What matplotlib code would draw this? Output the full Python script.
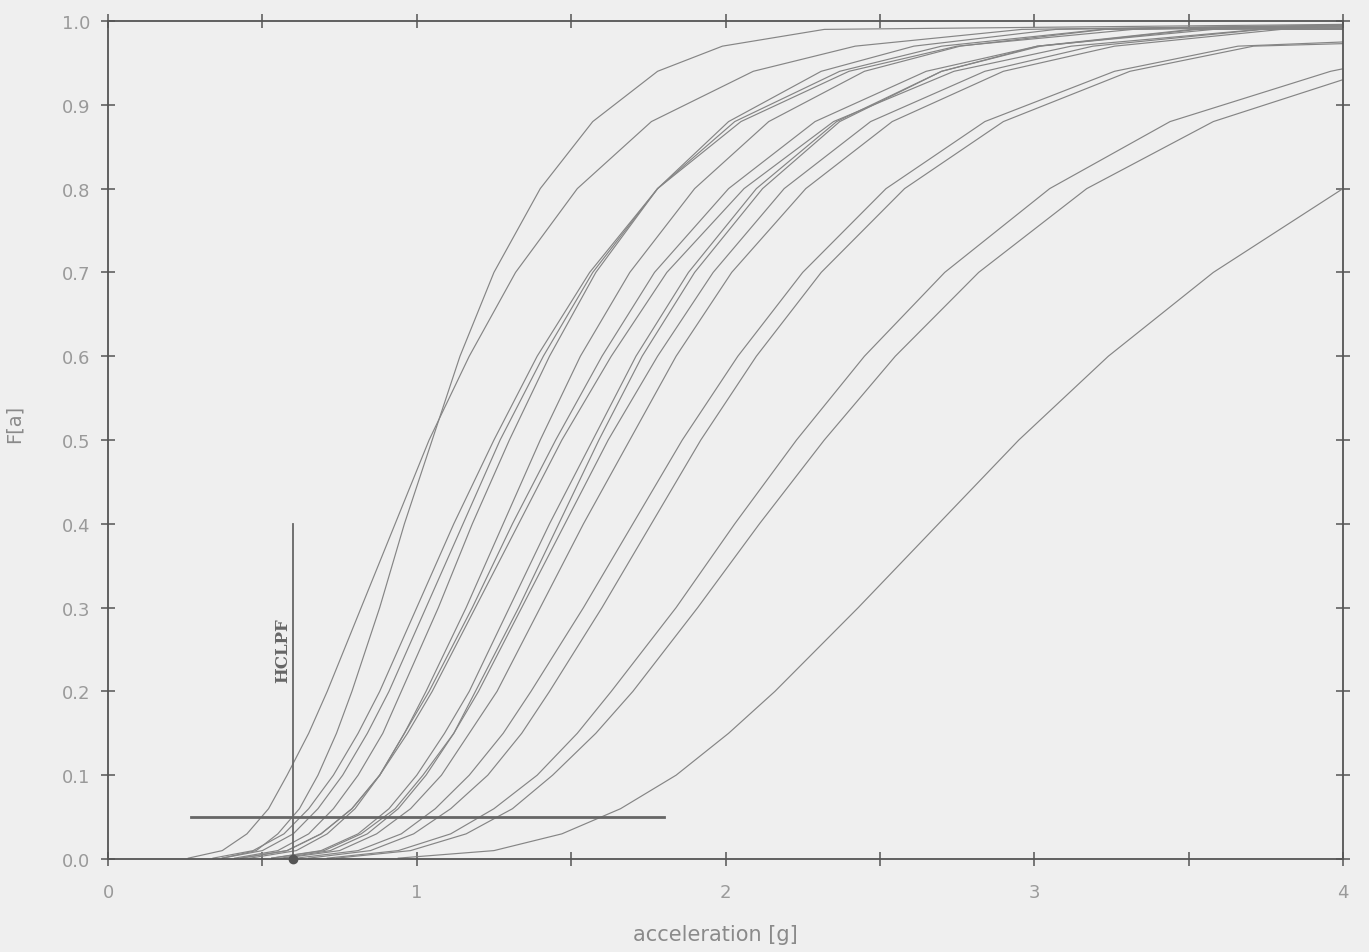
import matplotlib
matplotlib.use('Agg')
import matplotlib.pyplot as plt

# fragility curves: for every curve the acceleration [g]
# at which F[a] reaches each level below; a curve stops where it hits x=4
F_LEVELS = [0.001, 0.01, 0.03, 0.06, 0.1, 0.15, 0.2, 0.3, 0.4, 0.5,
            0.6, 0.7, 0.8, 0.88, 0.94, 0.97, 0.99]

c01 = [0.26, 0.37, 0.45, 0.52, 0.58, 0.65, 0.71, 0.82, 0.93, 1.04, 1.17, 1.32, 1.52, 1.76, 2.09, 2.42, 2.96]
c02 = [0.37, 0.48, 0.55, 0.62, 0.68, 0.74, 0.79, 0.88, 0.96, 1.05, 1.14, 1.25, 1.40, 1.57, 1.78, 1.99, 2.32]
c03 = [0.34, 0.47, 0.57, 0.65, 0.73, 0.81, 0.88, 1.00, 1.12, 1.25, 1.39, 1.56, 1.78, 2.05, 2.40, 2.75, 3.32]
c04 = [0.37, 0.50, 0.60, 0.68, 0.76, 0.84, 0.91, 1.03, 1.15, 1.27, 1.41, 1.57, 1.78, 2.03, 2.37, 2.70, 3.22]
c05 = [0.41, 0.55, 0.65, 0.73, 0.81, 0.89, 0.95, 1.07, 1.18, 1.30, 1.43, 1.58, 1.78, 2.01, 2.31, 2.61, 3.07]
c06 = [0.46, 0.61, 0.71, 0.80, 0.88, 0.96, 1.03, 1.16, 1.28, 1.40, 1.53, 1.69, 1.90, 2.14, 2.45, 2.76, 3.23]
c07 = [0.43, 0.58, 0.69, 0.79, 0.88, 0.96, 1.04, 1.18, 1.31, 1.45, 1.60, 1.77, 2.01, 2.29, 2.65, 3.01, 3.58]
c08 = [0.43, 0.58, 0.69, 0.79, 0.88, 0.97, 1.05, 1.19, 1.33, 1.47, 1.63, 1.81, 2.06, 2.35, 2.74, 3.12, 3.73]
c09 = [0.53, 0.69, 0.81, 0.91, 1.00, 1.09, 1.17, 1.30, 1.43, 1.57, 1.71, 1.88, 2.10, 2.36, 2.70, 3.02, 3.53]
c10 = [0.56, 0.72, 0.84, 0.94, 1.03, 1.12, 1.19, 1.33, 1.46, 1.59, 1.73, 1.90, 2.12, 2.37, 2.70, 3.01, 3.51]
c11 = [0.53, 0.70, 0.82, 0.93, 1.02, 1.12, 1.20, 1.34, 1.48, 1.62, 1.78, 1.96, 2.19, 2.47, 2.84, 3.19, 3.74]
c12 = [0.57, 0.75, 0.87, 0.98, 1.08, 1.17, 1.26, 1.40, 1.54, 1.69, 1.84, 2.02, 2.26, 2.54, 2.90, 3.26, 3.80]
c13 = [0.61, 0.81, 0.95, 1.06, 1.17, 1.28, 1.37, 1.54, 1.70, 1.86, 2.04, 2.25, 2.52, 2.84, 3.26, 3.66]
c14 = [0.65, 0.85, 0.99, 1.11, 1.23, 1.34, 1.43, 1.60, 1.76, 1.92, 2.10, 2.31, 2.58, 2.90, 3.31, 3.71]
c15 = [0.71, 0.94, 1.11, 1.25, 1.39, 1.52, 1.63, 1.84, 2.03, 2.23, 2.45, 2.71, 3.05, 3.44, 3.96]
c16 = [0.74, 0.98, 1.16, 1.31, 1.44, 1.58, 1.70, 1.91, 2.11, 2.32, 2.55, 2.82, 3.17, 3.58]
c17 = [0.94, 1.25, 1.47, 1.66, 1.84, 2.01, 2.16, 2.43, 2.69, 2.95, 3.24, 3.58]

curves = [c01, c02, c03, c04, c05, c06, c07, c08, c09,
          c10, c11, c12, c13, c14, c15, c16, c17]
# F[a] of every curve at the right edge (a = 4 g)
end_f = [0.995, 0.996, 0.993, 0.994, 0.995, 0.994, 0.991, 0.99, 0.992,
         0.993, 0.99, 0.99, 0.975, 0.973, 0.943, 0.930, 0.80]

hclpf = 0.6
hclpf_top = 0.40
level_line = [0.27, 1.80]   # horizontal line at F = 0.05
level_f = 0.05

x_ticks = [0, 0.5, 1, 1.5, 2, 2.5, 3, 3.5, 4]
x_labels = ['0', '', '1', '', '2', '', '3', '', '4']
y_ticks = [0.0, 0.1, 0.2, 0.3, 0.4, 0.5, 0.6, 0.7, 0.8, 0.9, 1.0]
y_labels = ['0.0', '0.1', '0.2', '0.3', '0.4', '0.5', '0.6', '0.7', '0.8', '0.9', '1.0']

paper = '#efefef'
ink = '#858585'

fig = plt.figure(figsize=(13.69, 9.53), dpi=100, facecolor=paper)
ax = fig.add_axes([0.0789, 0.0976, 0.9021, 0.8793], facecolor=paper)

for xs, fe in zip(curves, end_f):
    n = len(xs)
    ax.plot(xs + [4.0], F_LEVELS[:n] + [fe], color=ink, lw=0.85)

ax.plot([hclpf, hclpf], [0, hclpf_top], color='#666666', lw=1.3)
ax.plot(level_line, [level_f, level_f], color='#666666', lw=2.0)
ax.plot([hclpf], [0], 'o', color='#555555', ms=6, clip_on=False)
ax.text(hclpf - 0.035, 0.25, 'HCLPF', rotation=90, ha='center', va='center',
        family='DejaVu Serif', fontweight='bold', fontsize=12, color='#666666')

ax.set_xlim(0, 4)
ax.set_ylim(0, 1)
ax.set_xticks(x_ticks)
ax.set_xticklabels(x_labels)
ax.set_yticks(y_ticks)
ax.set_yticklabels(y_labels)
ax.tick_params(direction='inout', length=10, width=1.1, color='#555555',
               top=True, right=True, labelsize=13, labelcolor='#9a9a9a', pad=8)
ax.tick_params(axis='x', pad=12)
for s in ax.spines.values():
    s.set_color('#555555')
    s.set_linewidth(1.3)

ax.set_xlabel('acceleration [g]', fontsize=15, color='#8a8a8a')
ax.xaxis.set_label_coords(0.492, -0.078)
ax.set_ylabel('F[a]', fontsize=14, color='#8a8a8a')
ax.yaxis.set_label_coords(-0.068, 0.52)

fig.savefig('out.png', dpi=100, facecolor=paper)
